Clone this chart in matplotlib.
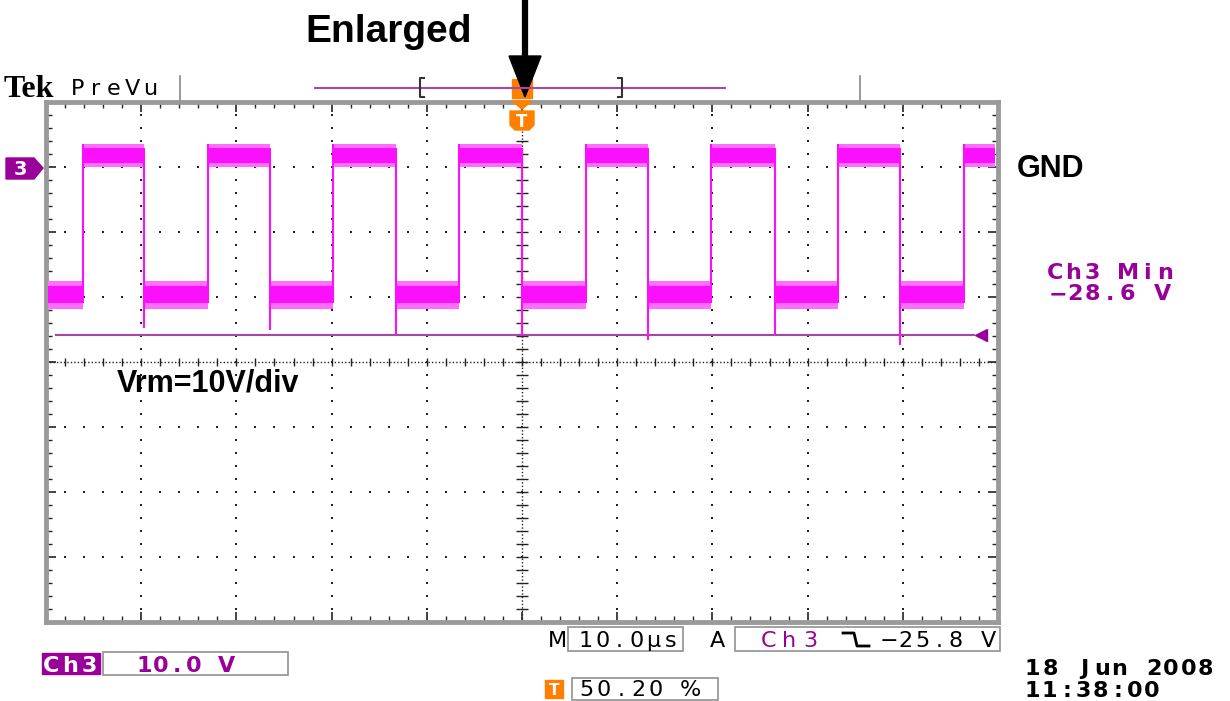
import numpy as np
import matplotlib.pyplot as plt
from matplotlib.transforms import Affine2D
from matplotlib.patches import Rectangle, Polygon
from matplotlib.lines import Line2D

W, H = 1230, 701

# scope trace: time in us, volts relative to GND
rise_us = [-46.1, -33.0, -19.9, -6.6, 6.7, 19.9, 33.2, 46.4]
fall_us = [-39.7, -26.5, -13.2, 0.0, 13.2, 26.6, 39.7]
spike_v = [-24.8, -25.1, -25.7, -26.0, -26.6, -25.7, -27.4]
high_band = [-0.1, 3.5]    # noise envelope of the high level
high_core = [0.6, 2.9]
low_band = [-21.8, -17.6]  # noise envelope of the low level
low_core = [-21.0, -18.4]
trig_level = -25.8
t_span = [-50, 50]   # 10 us/div
v_span = [-70, 10]   # 10 V/div, GND 3 div above centre

MAG = "#fb10fb"
MAG_LT = "#ff6eff"
PURPLE = "#990099"
PURPLE_LN = "#a646a6"
ORANGE = "#ff8000"
GRAY = "#9a9a9a"

fig = plt.figure(figsize=(W / 100, H / 100), dpi=100)
px = Affine2D().scale(1 / W, -1 / H).translate(0, 1) + fig.transFigure

ax = fig.add_axes([46 / W, 1 - 622 / H, 952 / W, 520.3 / H])
ax.set_xlim(t_span)
ax.set_ylim(v_span)

# graticule
ax.set_xticks(np.arange(-50, 51, 10))
ax.set_xticks(np.arange(-50, 51, 2), minor=True)
ax.set_yticks(np.arange(-70, 11, 10))
ax.set_yticks(np.arange(-70, 11, 2), minor=True)
ax.tick_params(which="both", direction="in", top=True, right=True,
               labelbottom=False, labelleft=False, color="#222")
ax.tick_params(which="major", length=7, width=1.2)
ax.tick_params(which="minor", length=4, width=1)
for sp in ax.spines.values():
    sp.set_color(GRAY)
    sp.set_linewidth(3.5)

gx = np.arange(-50, 50.1, 2)
gy = np.arange(-70, 10.1, 2)
for x in [-40, -30, -20, -10, 10, 20, 30, 40]:
    ax.plot(np.full_like(gy, x), gy, ls="none", marker="s", ms=1.6,
            mew=0, color="#222", zorder=1)
for y in [0, -10, -20, -40, -50, -60]:
    ax.plot(gx, np.full_like(gx, y), ls="none", marker="s", ms=1.6,
            mew=0, color="#222", zorder=1)
ax.axhline(-30, color="#222", lw=1, ls=(0, (1, 1.5)), zorder=1)
ax.axvline(0, color="#222", lw=1, ls=(0, (1, 1.5)), zorder=1)
ax.plot(gx, np.full_like(gx, -30), ls="none", marker="|", ms=6, mew=1,
        color="#222", zorder=1)
ax.plot(np.full_like(gy, 0), gy, ls="none", marker="_", ms=8, mew=1,
        color="#222", zorder=1)

# trigger level line + marker
ax.plot([-49, 47.5], [trig_level, trig_level], color=PURPLE_LN, lw=1.5,
        zorder=2)
ax.plot([48.2], [trig_level], marker="<", ms=9, color=PURPLE, zorder=2)

# waveform
highs = list(zip(rise_us, fall_us + [t_span[1] - 0.3]))
lows = list(zip([t_span[0] + 0.2] + fall_us, rise_us))
for t0, t1 in highs:
    ax.fill_between([t0, t1], *high_band, color=MAG_LT, lw=0, zorder=3)
    ax.fill_between([t0, t1], *high_core, color=MAG, lw=0, zorder=3)
for t0, t1 in lows:
    ax.fill_between([t0, t1], *low_band, color=MAG_LT, lw=0, zorder=3)
    ax.fill_between([t0, t1], *low_core, color=MAG, lw=0, zorder=3)
ax.vlines(rise_us, low_core[0], high_band[1], color=MAG, lw=1.5, zorder=3)
ax.vlines(fall_us, spike_v, high_core[1], color=MAG, lw=1.5, zorder=3)


def tek(x0, y, s, pitch, color="black", size=16, weight="bold", **kw):
    # fixed-pitch screen font
    for i, ch in enumerate(s):
        fig.text(x0 + pitch * (i + 0.5), y, ch, transform=px, ha="center",
                 va="baseline", color=color, fontsize=size, weight=weight,
                 family="DejaVu Sans", **kw)


def box(x0, y0, x1, y1, **kw):
    fig.add_artist(Rectangle((x0, y0), x1 - x0, y1 - y0, transform=px,
                             **kw))


def line(xs, ys, **kw):
    fig.add_artist(Line2D(xs, ys, transform=px, **kw))


# header
fig.text(4, 97, "Tek", transform=px, ha="left", va="baseline",
         fontsize=23, weight="bold", family="Liberation Serif")
tek(69, 95, "PreVu", 18, size=16, weight="normal")
line([180, 180], [76, 100], color="#888", lw=1.2)
line([860, 860], [76, 100], color="#888", lw=1.2)
line([315, 725], [88, 88], color=PURPLE_LN, lw=1.5)
line([424, 420, 420, 424], [78, 78, 97, 97], color="#333", lw=1.5)
line([618, 622, 622, 618], [78, 78, 97, 97], color="#333", lw=1.5)

# trigger position markers
box(512, 79, 532, 98, color=ORANGE)
fig.add_artist(Polygon([(512, 101), (532, 101), (522, 109)], transform=px,
                       color=ORANGE))
fig.add_artist(Polygon([(510, 111), (534, 111), (534, 125), (529, 130),
                        (515, 130), (510, 125)], transform=px,
                       color=ORANGE))
fig.text(522, 127, "T", transform=px, ha="center", va="baseline",
         color="white", fontsize=12, weight="bold")

# annotation arrow
line([525, 525], [0, 58], color="black", lw=4.5, solid_capstyle="butt")
fig.add_artist(Polygon([(509, 56), (541, 56), (525, 97)], transform=px,
                       color="black"))
fig.text(389, 42, "Enlarged", transform=px, ha="center", va="baseline",
         fontsize=28, weight="bold", family="Liberation Sans")

# channel ground marker
fig.add_artist(Polygon([(6, 158), (34, 158), (43, 168), (34, 179),
                        (6, 179)], transform=px, color=PURPLE))
fig.text(20, 175, "3", transform=px, ha="center", va="baseline",
         color="white", fontsize=14, weight="bold")

fig.text(1017, 177, "GND", transform=px, ha="left", va="baseline",
         fontsize=22, weight="bold", family="Liberation Sans")
fig.text(117, 391, "Vrm=10V/div", transform=px, ha="left", va="baseline",
         fontsize=22, weight="bold", family="Liberation Sans")

tek(1046, 279, "Ch3 Min", 18.3, color=PURPLE)
tek(1049, 300, "\u221228.6 V", 17.5, color=PURPLE)

# bottom readouts
box(42, 653, 100, 674, color=PURPLE)
tek(42, 672, "Ch3", 19, color="white")
box(103, 652, 288, 675, fill=False, ec=GRAY, lw=1.3)
tek(136, 672, "10.0 V", 16.5, color=PURPLE)

tek(548, 647, "M", 18, weight="normal")
box(568, 627, 683, 651, fill=False, ec=GRAY, lw=1.3)
tek(577, 647, "10.0\u00b5s", 17, weight="normal")
tek(708, 647, "A", 18, weight="normal")
box(735, 627, 1000, 651, fill=False, ec=GRAY, lw=1.3)
tek(758, 647, "Ch3", 21, color=PURPLE, weight="normal")
line([843, 854, 857, 869], [633, 633, 646, 646], color="black", lw=2)
tek(881, 647, "\u221225.8 V", 16.5, weight="normal")

box(545, 680, 563, 698, color=ORANGE)
fig.text(554, 695, "T", transform=px, ha="center", va="baseline",
         color="white", fontsize=11, weight="bold")
box(572, 678, 718, 700, fill=False, ec=GRAY, lw=1.3)
tek(578, 696, "50.20 %", 17.3, weight="normal")

tek(1024, 675, "18 Jun 2008", 17.3)
tek(1024, 697, "11:38:00", 17)

fig.savefig("out.png", dpi=100)
